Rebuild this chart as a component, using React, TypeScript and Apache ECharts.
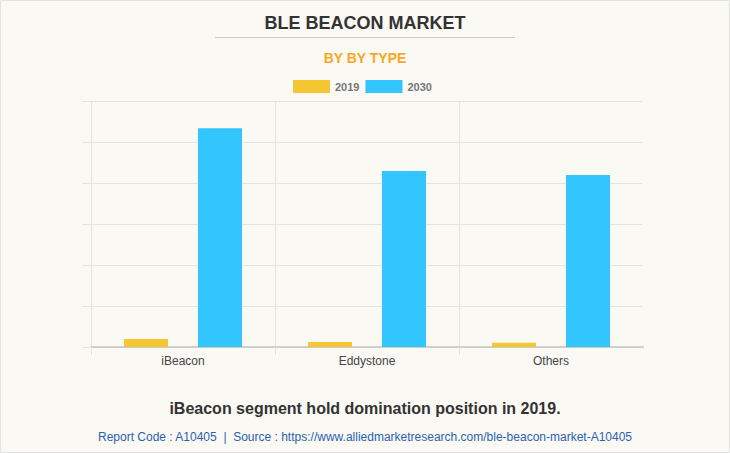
import React, { useEffect, useRef } from "react";
import * as echarts from "echarts";

const categories = ["iBeacon", "Eddystone", "Others"];
const seriesNames = ["2019", "2030"];
const values2019 = [39, 24, 21];
const values2030 = [1067, 858, 839];
const yMax = 1200;
const yInterval = 200;

const titleText = "BLE BEACON MARKET";
const subtitleText = "BY BY TYPE";
const footnoteText = "iBeacon segment hold domination position in 2019.";
const sourceText =
  "Report Code : A10405  |  Source : https://www.alliedmarketresearch.com/ble-beacon-market-A10405";

export default function App() {
  const ref = useRef<HTMLDivElement>(null);
  useEffect(() => {
    if (!ref.current) return;
    const chart = echarts.init(ref.current, null, { renderer: "svg" });
    const font = "Liberation Sans, Arial, sans-serif";
    const bg = "#faf9f4";
    chart.setOption({
      animation: false,
      backgroundColor: bg,
      textStyle: { fontFamily: font },
      title: [
        {
          text: titleText,
          left: "center",
          top: 9,
          textStyle: { fontSize: 18, fontWeight: "bold", color: "#333333", fontFamily: font },
        },
        {
          text: subtitleText,
          left: "center",
          top: 46,
          textStyle: { fontSize: 14, fontWeight: "bold", color: "#f9a825", fontFamily: font },
        },
        {
          text: footnoteText,
          left: "center",
          top: 395,
          textStyle: { fontSize: 16, fontWeight: "bold", color: "#333333", fontFamily: font },
        },
        {
          text: sourceText,
          left: "center",
          top: 426,
          textStyle: { fontSize: 12, fontWeight: "normal", color: "#2a62b0", fontFamily: font },
        },
      ],
      graphic: {
        elements: [
          {
            type: "line",
            shape: { x1: 215, y1: 37.5, x2: 515, y2: 37.5 },
            style: { stroke: "#cccccc", lineWidth: 1 },
          },
          {
            type: "line",
            z: 50,
            silent: true,
            shape: { x1: 643.5, y1: 98, x2: 643.5, y2: 345.5 },
            style: { stroke: bg, lineWidth: 3 },
          },
          {
            type: "line",
            z: 50,
            silent: true,
            shape: { x1: 643.5, y1: 349, x2: 643.5, y2: 358 },
            style: { stroke: bg, lineWidth: 3 },
          },
          {
            type: "rect",
            shape: { x: 0.5, y: 0.5, width: 729, height: 452 },
            style: { fill: "none", stroke: "#e2e2e2", lineWidth: 1 },
            silent: true,
          },
        ],
      },
      legend: {
        data: seriesNames,
        top: 75,
        left: 288,
        itemWidth: 37,
        itemHeight: 13,
        itemGap: 6,
        icon: "rect",
        textStyle: { color: "#777777", fontSize: 11, fontWeight: "bold", fontFamily: font },
      },
      grid: { left: 91, right: 87, top: 101, bottom: 106, containLabel: false },
      xAxis: {
        type: "category",
        data: categories,
        axisLine: { show: true, lineStyle: { color: "#c4c4c4", width: 1.5 } },
        axisTick: { show: true, length: 8, lineStyle: { color: "#e3e3e3" } },
        splitLine: { show: true, lineStyle: { color: "#e3e3e3" } },
        axisLabel: { color: "#444444", fontSize: 12, margin: 8, fontFamily: font },
      },
      yAxis: {
        type: "value",
        min: 0,
        max: yMax,
        interval: yInterval,
        axisLabel: { show: false },
        axisLine: { show: false },
        axisTick: { show: true, length: 9, lineStyle: { color: "#e3e3e3" } },
        splitLine: { show: true, lineStyle: { color: "#e3e3e3" } },
      },
      series: [
        {
          name: seriesNames[0],
          type: "bar",
          data: values2019,
          barWidth: 44,
          barGap: "68%",
          itemStyle: { color: "#f5c733" },
        },
        {
          name: seriesNames[1],
          type: "bar",
          data: values2030,
          barWidth: 44,
          itemStyle: { color: "#33c5fe" },
        },
      ],
    });
    return () => chart.dispose();
  }, []);
  return (
    <div style={{ position: "fixed", left: 0, top: 0, width: 730, height: 453 }}>
      <div ref={ref} style={{ width: 730, height: 453 }} />
    </div>
  );
}
